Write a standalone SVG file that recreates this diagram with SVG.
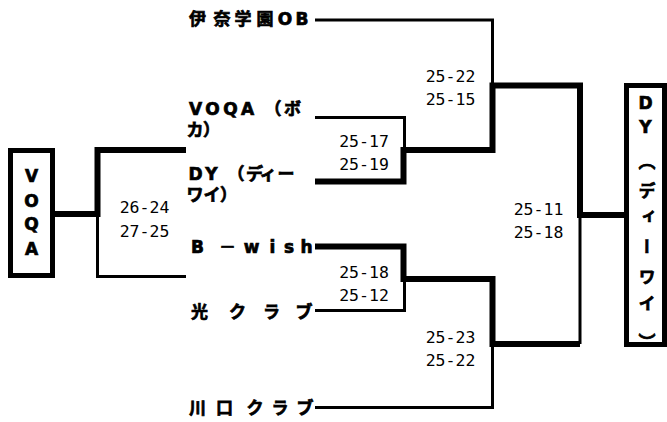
<svg xmlns="http://www.w3.org/2000/svg" width="667" height="422" viewBox="0 0 667 422">
<style>
.lbl{font-family:"DejaVu Sans","Noto Sans CJK JP",sans-serif;font-weight:bold;font-size:17px;fill:#000;stroke:#000;stroke-width:0.7px}
.sc{font-family:"DejaVu Sans Mono","Liberation Mono",monospace;font-size:16.5px;fill:#000}
.thin{fill:none;stroke:#000;stroke-width:3;stroke-linejoin:miter}
.thick{fill:none;stroke:#000;stroke-width:6;stroke-linejoin:miter}
.box{fill:#fff;stroke:#000;stroke-width:5}
</style>
<rect width="667" height="422" fill="#fff"/>
<g id="connectors">
<path class="thin" d="M315 20H492.5V86"/>
<path class="thin" d="M315 117.5H404.5V150"/>
<path class="thin" d="M315 310.5H404.5V279"/>
<path class="thin" d="M315 407.5H492.5V344"/>
<path class="thin" d="M97.5 214V276.5H186"/>
<path class="thin" d="M580 215V344"/>
<path class="thick" d="M315 181.5H403.5V150H492.5V85.5H580V215H624"/>
<path class="thick" d="M315 246.5H403.5V279H492.5V344H580"/>
<path class="thick" d="M55 214H97.5V150H186"/>
</g>
<g id="scores" class="sc" text-anchor="middle">
<text x="144.5" y="213">26-24</text>
<text x="144.5" y="237">27-25</text>
<text x="450.5" y="82">25-22</text>
<text x="450.5" y="105">25-15</text>
<text x="364" y="147">25-17</text>
<text x="364" y="170">25-19</text>
<text x="364" y="278">25-18</text>
<text x="364" y="301">25-12</text>
<text x="450.5" y="343">25-23</text>
<text x="450.5" y="366">25-22</text>
<text x="538.5" y="215">25-11</text>
<text x="538.5" y="238">25-18</text>
</g>
<g id="node-voqa-champion">
<rect class="box" x="10.5" y="150.5" width="42" height="125"/>
<text class="lbl" text-anchor="middle" x="31.5 31.5 31.5 31.5" y="182 207 230 255">VOQA</text>
</g>
<g id="node-dy-champion">
<rect class="box" x="626.5" y="85.5" width="38" height="259"/>
<text class="lbl" text-anchor="middle" x="645.5" y="102.5 126.5 162 191 217 247 277 304 342" style="writing-mode:vertical-rl;text-orientation:upright">DY（ディーワイ）</text>
</g>
<g id="node-ina">
<text class="lbl" text-anchor="middle" x="197.5 222 243 265 285 302" y="24.5">伊奈学園OB</text>
</g>
<g id="node-voqa">
<text class="lbl" text-anchor="middle"><tspan x="195.5 212.5 230.5 247.5 273 292.5" y="115">VOQA（ボ</tspan><tspan x="195 211.5" y="136">カ）</tspan></text>
</g>
<g id="node-dy">
<text class="lbl" text-anchor="middle"><tspan x="195.5 211.5 236 254.5 268 286" y="180">DY（ディー</tspan><tspan x="195 212 228.5" y="201">ワイ）</tspan></text>
</g>
<g id="node-bwish">
<text class="lbl" text-anchor="middle" x="197.5 227.5 251.5 272.5 289 306.5" y="253">B－wish</text>
</g>
<g id="node-hikari">
<text class="lbl" text-anchor="middle" x="199.5 237.5 271.5 304" y="318">光クラブ</text>
</g>
<g id="node-kawaguchi">
<text class="lbl" text-anchor="middle" x="197.5 224.5 255 280 305" y="414">川口クラブ</text>
</g>
</svg>
